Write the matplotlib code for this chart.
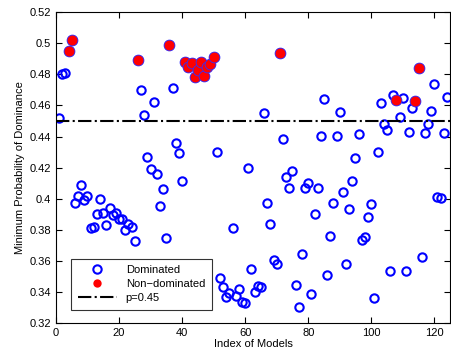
import matplotlib

matplotlib.use("Agg")
import matplotlib.pyplot as plt
import numpy as np

plt.rcParams["font.family"] = ["Liberation Sans", "DejaVu Sans"]

# minimum probability of dominance per model (index 1..124)
scores = [
    0.452, 0.480, 0.481, 0.495, 0.502, 0.397, 0.402, 0.409, 0.399, 0.402,
    0.381, 0.382, 0.390, 0.400, 0.3905, 0.383, 0.394, 0.3895, 0.3905, 0.387,
    0.387, 0.380, 0.384, 0.382, 0.373, 0.489, 0.470, 0.454, 0.427, 0.419,
    0.462, 0.416, 0.395, 0.406, 0.375, 0.499, 0.471, 0.436, 0.4295, 0.4115,
    0.488, 0.4848, 0.4874, 0.4784, 0.4827, 0.488, 0.4788, 0.4848, 0.4864, 0.4913,
    0.430, 0.3487, 0.3434, 0.3365, 0.3391, 0.381, 0.3374, 0.3417, 0.3337, 0.3331,
    0.4195, 0.3545, 0.3401, 0.3438, 0.3434, 0.4549, 0.3974, 0.3837, 0.3605, 0.358,
    0.4938, 0.4381, 0.4137, 0.4066, 0.4176, 0.3444, 0.3301, 0.3644, 0.407, 0.4102,
    0.3387, 0.390, 0.4066, 0.4405, 0.464, 0.3509, 0.3761, 0.3974, 0.4405, 0.4555,
    0.404, 0.358, 0.3931, 0.4115, 0.4259, 0.4413, 0.3734, 0.3751, 0.388, 0.3963,
    0.3359, 0.4298, 0.4617, 0.4478, 0.4441, 0.3536, 0.4666, 0.4634, 0.4527, 0.4645,
    0.3532, 0.443, 0.4581, 0.463, 0.4838, 0.3622, 0.442, 0.4478, 0.4565, 0.4735,
    0.4012, 0.4006, 0.442, 0.4655,
]
non_dominated = [4, 5, 26, 36, 41, 42, 43, 44, 45, 46, 47, 48, 49, 50, 71, 108, 114, 115]
threshold = 0.45

idx = np.arange(1, len(scores) + 1)
scores = np.array(scores)
nd_mask = np.isin(idx, non_dominated)

fig = plt.figure(figsize=(4.51, 3.54), dpi=100)
ax = fig.add_axes([0.124, 0.0876, 0.874, 0.878])

ax.plot(idx, scores, "o", ls="none", mfc="none", mec="#0000ff", mew=1.5, ms=6,
        label="Dominated")
ax.plot(idx[nd_mask], scores[nd_mask], "o", ls="none", mfc="#ff0000", mec="#3030ff",
        mew=0.6, ms=7.8, label="Non\u2212dominated")
ax.plot([0, 125], [threshold, threshold], color="k", ls="-.", lw=1.5, label="p=0.45")

ax.set_xlim(0, 125)
ax.set_ylim(0.32, 0.52)
ax.set_xticks(np.arange(0, 121, 20))
ax.set_yticks(np.arange(0.32, 0.5201, 0.02))
ax.set_yticklabels([f"{v:g}" for v in np.round(np.arange(0.32, 0.5201, 0.02), 2)])
ax.tick_params(direction="in", top=True, right=True, length=4, labelsize=8)
ax.set_xlabel("Index of Models", fontsize=8, labelpad=1)
ax.set_ylabel("Minimum Probability of Dominance", fontsize=8, labelpad=3)

leg = ax.legend(loc="lower left", bbox_to_anchor=(0.025, 0.025), fontsize=8,
                frameon=True, fancybox=False, edgecolor="k", borderpad=0.6,
                handlelength=3.5, labelspacing=0.35)
leg.get_frame().set_linewidth(0.8)
leg.legend_handles[1].set_markersize(6)
leg.legend_handles[1].set_markeredgecolor("none")

fig.savefig("out.png", dpi=100)
